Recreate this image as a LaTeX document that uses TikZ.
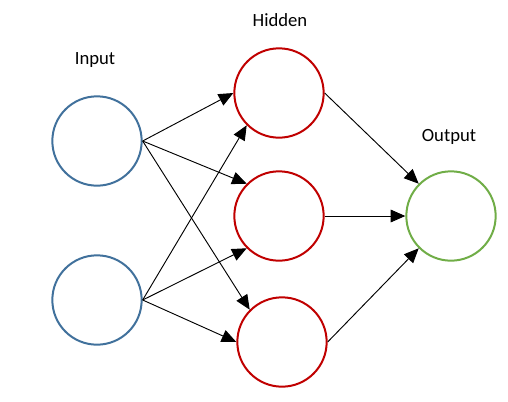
\documentclass[tikz,border=0pt]{standalone}
\usepackage{fontspec}
\setmainfont{Carlito}
\usetikzlibrary{arrows.meta,positioning}
\definecolor{inblue}{HTML}{41719C}
\definecolor{hidred}{HTML}{C00000}
\definecolor{outgreen}{HTML}{70AD47}

\begin{document}
\begin{tikzpicture}[x=0.75pt,y=-0.75pt,every node/.style={font=\fontsize{14}{16}\selectfont},
  unit/.style={circle,line width=1.5pt,minimum size=67pt,inner sep=0pt},
  link/.style={line width=0.7pt,-{Triangle[length=11pt,width=9.5pt]}}]
\useasboundingbox (0,0) rectangle (508,401);
\node (lin) at (95,60) {Input};
\node (lhid) at (280,20) {Hidden};
\node (lout) at (449,137) {Output};
\node[unit,draw=inblue] (i1) at (97,141) {};
\node[unit,draw=inblue] (i2) at (97,300) {};
\node[unit,draw=hidred] (h1) at (279,93) {};
\node[unit,draw=hidred] (h2) at (279,216) {};
\node[unit,draw=hidred] (h3) at (282,342) {};
\node[unit,draw=outgreen] (o) at (451,216) {};
\draw[link] (i1.east)--(h1.west);
\draw[link] (i1.east)--(h2.north west);
\draw[link] (i1.east)--(h3.north west);
\draw[link] (i2.east)--(h1.south west);
\draw[link] (i2.east)--(h2.south west);
\draw[link] (i2.east)--(h3.west);
\draw[link] (h1.east)--(o.north west);
\draw[link] (h2.east)--(o.west);
\draw[link] (h3.east)--(o.south west);
\end{tikzpicture}
\end{document}
